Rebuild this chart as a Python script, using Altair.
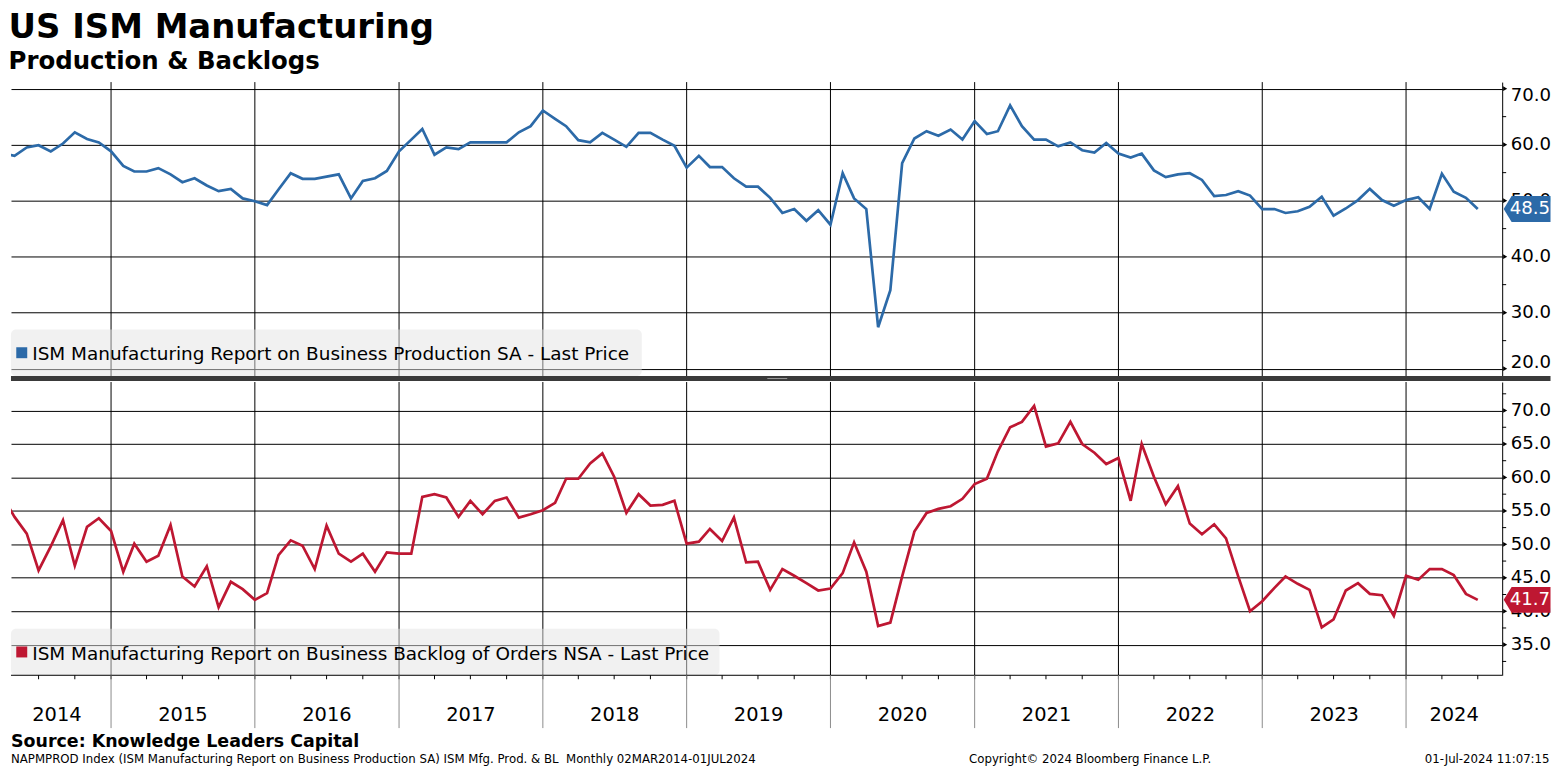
import altair as alt
import pandas as pd

# ---------------- data ----------------
# Monthly values Mar-2014 .. Jun-2024 (each plotted at the end of its month)
production = [
    58.5, 58.0, 59.5, 59.9, 58.8, 60.2, 62.2, 61.0, 60.4, 58.8,                  # 2014 (Mar-Dec)
    56.2, 55.2, 55.2, 55.8, 54.7, 53.3, 54.0, 52.7, 51.7, 52.1, 50.4, 49.9,      # 2015
    49.2, 52.0, 54.9, 53.9, 53.9, 54.3, 54.7, 50.4, 53.5, 54.0, 55.3, 58.8,      # 2016
    60.9, 62.8, 58.2, 59.5, 59.2, 60.4, 60.4, 60.4, 60.4, 62.2, 63.3, 66.1,      # 2017
    64.6, 63.3, 60.8, 60.4, 62.1, 60.9, 59.6, 62.1, 62.1, 60.9, 59.8, 55.9,      # 2018
    58.0, 56.0, 56.0, 54.0, 52.5, 52.5, 50.5, 47.8, 48.5, 46.4, 48.3, 45.7,      # 2019
    54.9, 50.4, 48.5, 27.4, 34.0, 56.7, 61.1, 62.4, 61.6, 62.7, 60.9, 64.2,      # 2020
    61.9, 62.4, 67.0, 63.3, 60.9, 60.9, 59.7, 60.4, 59.0, 58.6, 60.3, 58.4,      # 2021
    57.7, 58.4, 55.4, 54.2, 54.7, 54.9, 53.7, 50.8, 51.0, 51.7, 50.9, 48.5,      # 2022
    48.5, 47.8, 48.1, 48.9, 50.7, 47.3, 48.6, 50.1, 52.1, 50.1, 49.1, 50.1,      # 2023
    50.6, 48.5, 54.8, 51.6, 50.5, 48.5,                                          # 2024 (Jan-Jun)
]
backlog = [
    57.1, 54.1, 51.6, 46.1, 49.7, 53.6, 46.8, 52.6, 53.9, 52.0,                  # 2014 (Mar-Dec)
    45.9, 50.1, 47.4, 48.3, 52.9, 45.2, 43.7, 46.7, 40.6, 44.4, 43.3, 41.7,      # 2015
    42.7, 48.4, 50.6, 49.8, 46.3, 52.8, 48.6, 47.4, 48.6, 45.9, 48.8, 48.6,      # 2016
    48.6, 57.1, 57.5, 57.0, 54.1, 56.5, 54.5, 56.5, 57.0, 54.0, 54.5, 55.1,      # 2017
    56.2, 59.8, 59.8, 62.1, 63.6, 60.1, 54.7, 57.5, 55.8, 55.9, 56.5, 50.1,      # 2018
    50.4, 52.3, 50.5, 54.0, 47.3, 47.4, 43.2, 46.3, 45.3, 44.2, 43.1, 43.4,      # 2019
    45.7, 50.3, 45.9, 37.8, 38.3, 45.2, 51.9, 54.7, 55.3, 55.7, 56.8, 59.0,      # 2020
    59.8, 63.9, 67.5, 68.3, 70.7, 64.6, 65.1, 68.3, 65.0, 63.7, 62.0, 62.9,      # 2021
    56.5, 65.0, 60.1, 56.0, 58.7, 53.1, 51.5, 53.0, 50.9, 45.2, 40.0, 41.5,      # 2022
    43.5, 45.2, 44.1, 43.2, 37.6, 38.8, 43.1, 44.2, 42.6, 42.4, 39.3, 45.3,      # 2023
    44.7, 46.3, 46.3, 45.4, 42.6, 41.7,                                          # 2024 (Jan-Jun)
]
years = list(range(2014, 2025))
top_major = [20, 30, 40, 50, 60, 70]
top_minor = [25, 35, 45, 55, 65]
bot_major = [35, 40, 45, 50, 55, 60, 65, 70]
bot_minor = [32.5, 37.5, 42.5, 47.5, 52.5, 57.5, 62.5, 67.5, 72.5]
label_top = "ISM Manufacturing Report on Business Production SA - Last Price"
label_bot = "ISM Manufacturing Report on Business Backlog of Orders NSA - Last Price"

BLUE = "#2c6aa8"
RED = "#be1732"
FONT = "DejaVu Sans"

W = 1496.5          # plot width
RIGHT = 48.5        # room right of the plot (keeps the page from overflowing)
H_TOP = 295
H_BOT = 294.3


def ms(ts):
    return int(pd.Timestamp(ts).value // 10**6)


plot_dates = pd.date_range("2014-04-01", periods=len(production), freq="MS")
df = pd.DataFrame({"t": [ms(d) for d in plot_dates], "prod": production, "back": backlog})

X_START = ms("2014-04-22")
X_END = ms("2024-09-01")
FIRST = ms(plot_dates[0])
xscale = alt.Scale(type="utc", domain=[X_START, X_END])

year_starts = pd.DataFrame({"t": [ms(f"{y}-01-01") for y in years if ms(f"{y}-01-01") > X_START]})
quarters = []
for y in years:
    for m in (1, 4, 7, 10):
        v = ms(f"{y}-{m:02d}-01")
        if X_START < v < X_END:
            quarters.append(v)
quarter_df = pd.DataFrame({"t": quarters})
mids = []
for y in years:
    left = max(ms(f"{y}-01-01"), FIRST)
    right = min(ms(f"{y + 1}-01-01"), X_END)
    mids.append((left + right) // 2)
year_lab = pd.DataFrame({"t": mids, "label": [str(y) for y in years]})

one = pd.DataFrame({"a": [0]})
# price tag: 47 px wide, 26 px tall, arrow tip on the left
TAG = "M -1 0 L -0.66 -0.553 L 1 -0.553 L 1 0.553 L -0.66 0.553 Z"
NOVIEW = alt.ViewBackground(stroke="transparent", strokeWidth=0)


def X():
    return alt.X("t:T", scale=xscale, axis=None)


def panel(field, color, ydom, major, minor, H, label, legend_w, cond_offset):
    yscale = alt.Scale(domain=ydom, nice=False, zero=False)
    axis_kwargs = dict(
        orient="right", values=major, format=".1f", grid=True, gridColor="black",
        gridOpacity=1, gridWidth=1, ticks=False, domain=True, domainColor="black",
        domainWidth=1, labelFont=FONT, labelFontSize=18.2, labelColor="black",
        labelPadding=8, title=None, labelBaseline="middle", labelFlush=False,
        labelOverlap=False,
    )
    if cond_offset:
        axis_kwargs["labelOffset"] = {
            "condition": [
                {"test": f"datum.value == {major[-1]}", "value": 6.7},
                {"test": f"datum.value == {major[0]}", "value": -6.6},
            ],
            "value": 0,
        }

    def Y(f):
        return alt.Y(f, scale=yscale, axis=alt.Axis(**axis_kwargs))

    yr_rules = alt.Chart(year_starts).mark_rule(color="black", strokeWidth=1).encode(
        x=X(), y=alt.value(0), y2=alt.value(H))
    line = alt.Chart(df).mark_line(color=color, strokeWidth=2.7, clip=True).encode(
        x=X(), y=Y(f"{field}:Q"))
    box = alt.Chart(one).mark_rect(fill="#e4e4e4", opacity=0.5, cornerRadius=5).encode(
        x=alt.value(0), x2=alt.value(legend_w), y=alt.value(H - 46.7), y2=alt.value(H))
    sq = alt.Chart(one).mark_square(color=color, size=121, opacity=1).encode(
        x=alt.value(10.8), y=alt.value(H - 23.4))
    txt = alt.Chart(pd.DataFrame({"label": [label]})).mark_text(
        align="left", baseline="alphabetic", font=FONT, fontSize=18.5, color="black").encode(
        x=alt.value(21.3), y=alt.value(H - 15.7), text="label:N")
    minor_t = alt.Chart(pd.DataFrame({"v": minor})).mark_rule(color="black", strokeWidth=1).encode(
        x=alt.value(W), x2=alt.value(W + 4), y=Y("v:Q"))
    major_t = alt.Chart(pd.DataFrame({"v": major})).mark_point(
        shape="triangle-right", filled=True, size=22, color="black", opacity=1).encode(
        x=alt.value(W + 3), y=Y("v:Q"))
    last = pd.DataFrame({"v": [df[field].iloc[-1]]})
    tag = alt.Chart(last).mark_point(shape=TAG, filled=True, size=47 ** 2, color=color, opacity=1).encode(
        x=alt.value(W + 1.5 + 23.5), y=Y("v:Q"))
    tag_txt = alt.Chart(last).mark_text(
        font=FONT, fontSize=18.2, color="white", align="right", baseline="middle").encode(
        x=alt.value(W + RIGHT - 0.5), y=Y("v:Q"), text=alt.Text("v:Q", format=".1f"))
    return [yr_rules, box, sq, txt, line, minor_t, major_t, tag, tag_txt]


top_layers = panel("prod", BLUE, [18.68, 71.17], top_major, top_minor, H_TOP, label_top, 633, True)
divider = alt.Chart(one).mark_rule(color="#3a3a3a", strokeWidth=5).encode(
    x=alt.value(0), x2=alt.value(W + RIGHT), y=alt.value(H_TOP + 2.5))
handle = alt.Chart(one).mark_rule(color="#9a9a9a", strokeWidth=1).encode(
    x=alt.value(759), x2=alt.value(779), y=alt.value(H_TOP + 2.5))
top = alt.layer(*top_layers, divider, handle).properties(width=W, height=H_TOP, view=NOVIEW)

bot_layers = panel("back", RED, [30.43, 74.26], bot_major, bot_minor, H_BOT, label_bot, 711, False)
x_line = alt.Chart(one).mark_rule(color="black", strokeWidth=1).encode(
    x=alt.value(0), x2=alt.value(W), y=alt.value(H_BOT))
q_ticks = alt.Chart(quarter_df).mark_rule(color="black", strokeWidth=1).encode(
    x=X(), y=alt.value(H_BOT), y2=alt.value(H_BOT + 4))
seps = alt.Chart(year_starts).mark_rule(color="#8c8c8c", strokeWidth=1).encode(
    x=X(), y=alt.value(H_BOT), y2=alt.value(H_BOT + 53))
ylabels = alt.Chart(year_lab).mark_text(
    font=FONT, fontSize=19.5, color="black", baseline="middle", align="center").encode(
    x=X(), y=alt.value(H_BOT + 40), text="label:N")
source = alt.Chart(pd.DataFrame({"s": ["Source: Knowledge Leaders Capital"]})).mark_text(
    font=FONT, fontSize=17.5, fontWeight="bold", color="black", align="left", baseline="alphabetic").encode(
    x=alt.value(0), y=alt.value(H_BOT + 72.3), text="s:N")
foot_l = alt.Chart(pd.DataFrame({"s": [
    "NAPMPROD Index (ISM Manufacturing Report on Business Production SA) ISM Mfg. Prod. & BL\u00a0 Monthly 02MAR2014-01JUL2024"]})).mark_text(
    font=FONT, fontSize=11.8, color="black", align="left", baseline="alphabetic").encode(
    x=alt.value(0), y=alt.value(H_BOT + 88.5), text="s:N")
foot_c = alt.Chart(pd.DataFrame({"s": ["Copyright\u00a9 2024 Bloomberg Finance L.P."]})).mark_text(
    font=FONT, fontSize=11.8, color="black", align="center", baseline="alphabetic").encode(
    x=alt.value(1083), y=alt.value(H_BOT + 88.5), text="s:N")
foot_r = alt.Chart(pd.DataFrame({"s": ["01-Jul-2024 11:07:15"]})).mark_text(
    font=FONT, fontSize=11.8, color="black", align="right", baseline="alphabetic").encode(
    x=alt.value(W + RIGHT - 1), y=alt.value(H_BOT + 88.5), text="s:N")
bottom = alt.layer(*bot_layers, x_line, q_ticks, seps, ylabels, source, foot_l, foot_c, foot_r).properties(
    width=W, height=H_BOT, view=NOVIEW)

chart = alt.vconcat(top, bottom, spacing=0).resolve_scale(y="independent").properties(
    padding={"top": 2, "left": 0, "right": 0, "bottom": 0},
    title=alt.TitleParams(
        text="US ISM Manufacturing", subtitle="Production & Backlogs", anchor="start",
        font=FONT, fontSize=34, fontWeight="bold", color="black",
        subtitleFont=FONT, subtitleFontSize=24.5, subtitleFontWeight="bold", subtitleColor="black",
        subtitlePadding=5, offset=8,
    ),
).configure_view(strokeWidth=0, stroke="transparent").configure(background="white")

chart.save("out.html", embed_options={"renderer": "svg", "actions": False})
